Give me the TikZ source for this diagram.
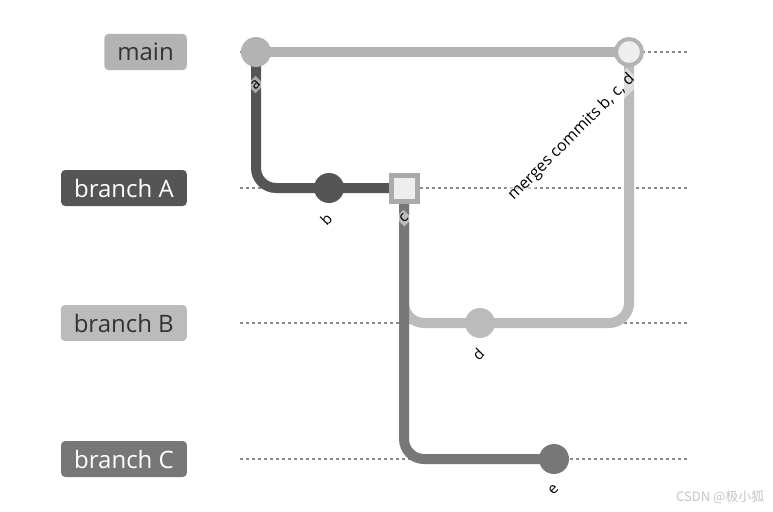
\documentclass[tikz,border=0pt]{standalone}
\usepackage{fontspec}
\setmainfont{Open Sans}
\newfontfamily\cjk{Noto Sans CJK SC}
\usetikzlibrary{positioning, backgrounds}
\definecolor{mainclr}{HTML}{B3B3B3}
\definecolor{aclr}{HTML}{555555}
\definecolor{bclr}{HTML}{BBBBBB}
\definecolor{cclr}{HTML}{777777}
\definecolor{lanegray}{HTML}{8A8A8A}
\definecolor{hlfill}{HTML}{EEEEEE}
\definecolor{hlborder}{HTML}{AAAAAA}
\definecolor{inkdark}{HTML}{333333}
\definecolor{wmgray}{HTML}{C4C4C4}

\begin{document}
\begin{tikzpicture}[x=1pt, y=-1pt,
    brlabel/.style={anchor=east, rounded corners=4pt, minimum height=36pt, inner xsep=13pt, font=\fontsize{24}{24}\selectfont},
    cmt/.style={circle, minimum size=30pt, inner sep=0pt, fill=#1},
    lane/.style={lanegray, line width=1.3pt, dash pattern=on 3pt off 3pt},
    branch/.style={line width=10pt, draw=#1, rounded corners=20pt},
    tag/.style={rotate=45, anchor=east, fill=white, fill opacity=0.5, text opacity=1, inner sep=2pt, font=\fontsize{15}{15}\selectfont}]
    \useasboundingbox (0,0) rectangle (773,511);
    % branch names
    \node[brlabel, fill=mainclr, text=inkdark] (lmain) at (187,52) {main};
    \node[brlabel, fill=aclr, text=white] (lA) at (187,188) {branch A};
    \node[brlabel, fill=bclr, text=inkdark] (lB) at (187,323) {branch B};
    \node[brlabel, fill=cclr, text=white] (lC) at (187,459) {branch C};
    % commits
    \node[cmt=mainclr] (a) at (256,52) {};
    \node[cmt=aclr] (b) at (329,188) {};
    \node[draw=hlborder, fill=hlfill, line width=5pt, minimum size=26pt, inner sep=0pt] (c) at (404,188) {};
    \node[cmt=bclr] (d) at (480,323) {};
    \node[cmt=cclr] (e) at (554,459) {};
    \node[circle, draw=mainclr, fill=hlfill, line width=4pt, minimum size=26pt, inner sep=0pt] (m) at (629,52) {};
    % branch lines
    \begin{scope}[on background layer]
        \foreach \y in {52,188,323,459}
            \draw[lane] (240,\y) -- (688,\y);
        \draw[branch=mainclr] (a.center) -- (m.center);
        \draw[branch=aclr] (a.center) |- (b.center) -- (c.center);
        \draw[branch=bclr] (c.center) |- (d.center) -| (m.center);
        \draw[branch=cclr] (c.center) |- (e.center);
    \end{scope}
    % commit tags
    \node[tag] (ta) at ([shift={(4,28)}]a.center) {a};
    \node[tag] (tb) at ([shift={(2,26)}]b.center) {b};
    \node[tag] (tc) at ([shift={(4,26)}]c.center) {c};
    \node[tag] (td) at ([shift={(3,26)}]d.center) {d};
    \node[tag] (te) at ([shift={(4,26)}]e.center) {e};
    \node[tag, font=\fontsize{16}{16}\selectfont] (tm) at ([shift={(5,23)}]m.center) {merges commits b, c, d};
    \node[anchor=east, text=wmgray, font=\cjk\fontsize{13}{13}\selectfont] (wm) at (768,497) {CSDN @极小狐};
\end{tikzpicture}
\end{document}
